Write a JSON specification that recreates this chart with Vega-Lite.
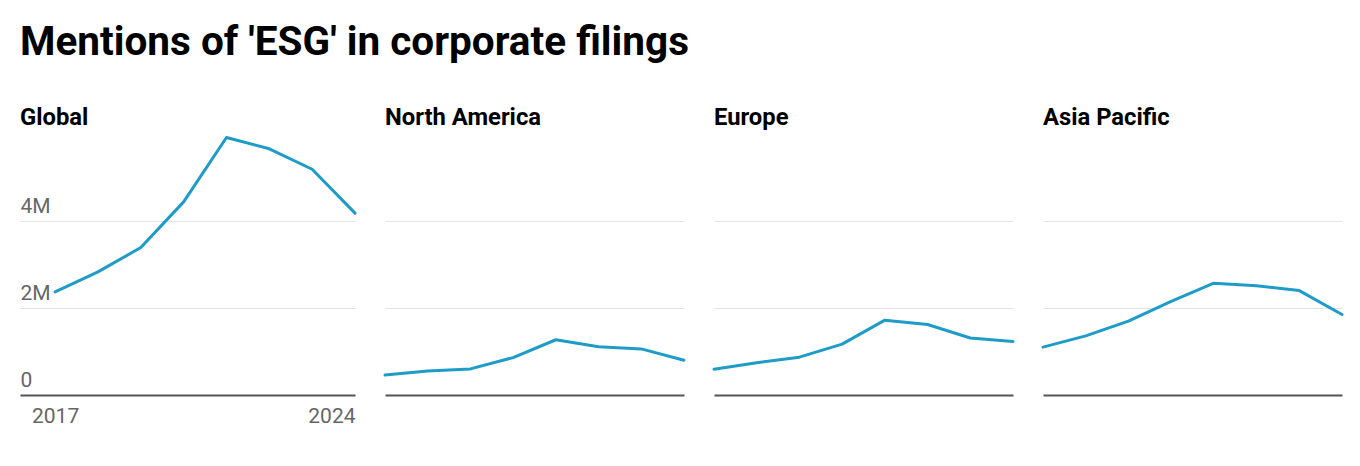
{
  "$schema": "https://vega.github.io/schema/vega-lite/v6.json",
  "padding": {"left": 20, "right": 0, "top": 22, "bottom": 0},
  "background": "#ffffff",
  "bounds": "flush",
  "title": {"text": "Mentions of 'ESG' in corporate filings", "anchor": "start", "font": "Roboto", "fontSize": 40.5, "fontWeight": "bold", "color": "#000000", "offset": 43},
  "data": {"values": [
    {"region": "Global", "year": 2017, "value": 2370000},
    {"region": "Global", "year": 2018, "value": 2830000},
    {"region": "Global", "year": 2019, "value": 3390000},
    {"region": "Global", "year": 2020, "value": 4440000},
    {"region": "Global", "year": 2021, "value": 5920000},
    {"region": "Global", "year": 2022, "value": 5660000},
    {"region": "Global", "year": 2023, "value": 5190000},
    {"region": "Global", "year": 2024, "value": 4180000},
    {"region": "North America", "year": 2017, "value": 460000},
    {"region": "North America", "year": 2018, "value": 550000},
    {"region": "North America", "year": 2019, "value": 600000},
    {"region": "North America", "year": 2020, "value": 860000},
    {"region": "North America", "year": 2021, "value": 1270000},
    {"region": "North America", "year": 2022, "value": 1110000},
    {"region": "North America", "year": 2023, "value": 1060000},
    {"region": "North America", "year": 2024, "value": 800000},
    {"region": "Europe", "year": 2017, "value": 590000},
    {"region": "Europe", "year": 2018, "value": 740000},
    {"region": "Europe", "year": 2019, "value": 870000},
    {"region": "Europe", "year": 2020, "value": 1170000},
    {"region": "Europe", "year": 2021, "value": 1720000},
    {"region": "Europe", "year": 2022, "value": 1620000},
    {"region": "Europe", "year": 2023, "value": 1310000},
    {"region": "Europe", "year": 2024, "value": 1230000},
    {"region": "Asia Pacific", "year": 2017, "value": 1100000},
    {"region": "Asia Pacific", "year": 2018, "value": 1360000},
    {"region": "Asia Pacific", "year": 2019, "value": 1700000},
    {"region": "Asia Pacific", "year": 2020, "value": 2150000},
    {"region": "Asia Pacific", "year": 2021, "value": 2570000},
    {"region": "Asia Pacific", "year": 2022, "value": 2510000},
    {"region": "Asia Pacific", "year": 2023, "value": 2400000},
    {"region": "Asia Pacific", "year": 2024, "value": 1850000}
  ]},
  "spacing": 30,
  "config": {
    "view": {"stroke": null},
    "font": "Roboto",
    "axis": {"labelFont": "Roboto", "title": null},
    "line": {"color": "#1f9bc8", "strokeWidth": 3, "strokeJoin": "round", "strokeCap": "round"},
    "title": {"frame": "group"}
  },
  "hconcat": [
    {
      "width": 335, "height": 261,
      "title": {"text": "Global", "anchor": "start", "frame": "group", "font": "Roboto", "fontSize": 23.8, "fontWeight": "bold", "color": "#000000", "offset": 4},
      "transform": [{"filter": "datum.region == 'Global'"}],
      "mark": {"type": "line"},
      "encoding": {
        "x": {"field": "year", "type": "quantitative",
          "scale": {"domain": [2016.18, 2024], "nice": false, "zero": false},
          "axis": {"values": [2017, 2024], "format": "d", "labelFlush": true, "ticks": false, "tickSize": 0, "grid": false, "domainColor": "#555555", "domainWidth": 2, "labelFontSize": 21, "labelColor": "#666666", "labelPadding": 10, "title": null}},
        "y": {"field": "value", "type": "quantitative",
          "scale": {"domain": [0, 6000000], "nice": false},
          "axis": {"values": [0, 2000000, 4000000], "labelExpr": "datum.value == 0 ? '0' : format(datum.value, '~s')", "domain": false, "ticks": false, "tickSize": 0, "gridColor": "#e3e3e3", "labelAlign": "left", "labelBaseline": "alphabetic", "labelPadding": 0, "labelOffset": -9, "labelFontSize": 21, "labelColor": "#666666", "title": null}}
      }
    },
    {
      "width": 299, "height": 261,
      "title": {"text": "North America", "anchor": "start", "frame": "group", "font": "Roboto", "fontSize": 23.8, "fontWeight": "bold", "color": "#000000", "offset": 4},
      "transform": [{"filter": "datum.region == 'North America'"}],
      "mark": {"type": "line"},
      "encoding": {
        "x": {"field": "year", "type": "quantitative",
          "scale": {"domain": [2017, 2024], "nice": false, "zero": false},
          "axis": {"labels": false, "ticks": false, "tickSize": 0, "grid": false, "domainColor": "#555555", "domainWidth": 2, "title": null}},
        "y": {"field": "value", "type": "quantitative",
          "scale": {"domain": [0, 6000000], "nice": false},
          "axis": {"values": [2000000, 4000000], "labels": false, "domain": false, "ticks": false, "tickSize": 0, "gridColor": "#e3e3e3", "title": null}}
      }
    },
    {
      "width": 299, "height": 261,
      "title": {"text": "Europe", "anchor": "start", "frame": "group", "font": "Roboto", "fontSize": 23.8, "fontWeight": "bold", "color": "#000000", "offset": 4},
      "transform": [{"filter": "datum.region == 'Europe'"}],
      "mark": {"type": "line"},
      "encoding": {
        "x": {"field": "year", "type": "quantitative",
          "scale": {"domain": [2017, 2024], "nice": false, "zero": false},
          "axis": {"labels": false, "ticks": false, "tickSize": 0, "grid": false, "domainColor": "#555555", "domainWidth": 2, "title": null}},
        "y": {"field": "value", "type": "quantitative",
          "scale": {"domain": [0, 6000000], "nice": false},
          "axis": {"values": [2000000, 4000000], "labels": false, "domain": false, "ticks": false, "tickSize": 0, "gridColor": "#e3e3e3", "title": null}}
      }
    },
    {
      "width": 299, "height": 261,
      "title": {"text": "Asia Pacific", "anchor": "start", "frame": "group", "font": "Roboto", "fontSize": 23.8, "fontWeight": "bold", "color": "#000000", "offset": 4},
      "transform": [{"filter": "datum.region == 'Asia Pacific'"}],
      "mark": {"type": "line"},
      "encoding": {
        "x": {"field": "year", "type": "quantitative",
          "scale": {"domain": [2017, 2024], "nice": false, "zero": false},
          "axis": {"labels": false, "ticks": false, "tickSize": 0, "grid": false, "domainColor": "#555555", "domainWidth": 2, "title": null}},
        "y": {"field": "value", "type": "quantitative",
          "scale": {"domain": [0, 6000000], "nice": false},
          "axis": {"values": [2000000, 4000000], "labels": false, "domain": false, "ticks": false, "tickSize": 0, "gridColor": "#e3e3e3", "title": null}}
      }
    }
  ]
}
